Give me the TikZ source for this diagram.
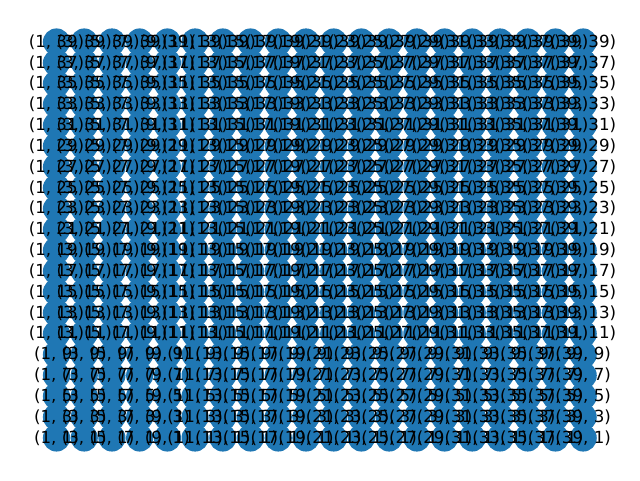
\documentclass[tikz,border=0pt]{standalone}
\usepackage{fontspec}
\setmainfont{DejaVu Sans}
\definecolor{nodeblue}{HTML}{1F77B4}
\begin{document}
\begin{tikzpicture}[x=0.75pt,y=-0.75pt,
  gnode/.style={circle,fill=nodeblue,draw=none,inner sep=0pt,minimum size=20.4pt},
  glabel/.style={font=\fontsize{12.5}{15}\selectfont,inner sep=0pt,text=black}]
\useasboundingbox (0,0) rectangle (640,480);
\foreach \i in {1,3,...,39}{
  \foreach \j in {1,3,...,39}{
    \node[gnode] (n-\i-\j) at ({56.5+(\i-1)*13.86},{42+(39-\j)*10.42}) {};
  }
}
\foreach \i in {1,3,...,39}{
  \foreach \j in {1,3,...,39}{
    \node[glabel] (t-\i-\j) at (n-\i-\j) {(\i, \j)};
  }
}
\end{tikzpicture}
\end{document}
